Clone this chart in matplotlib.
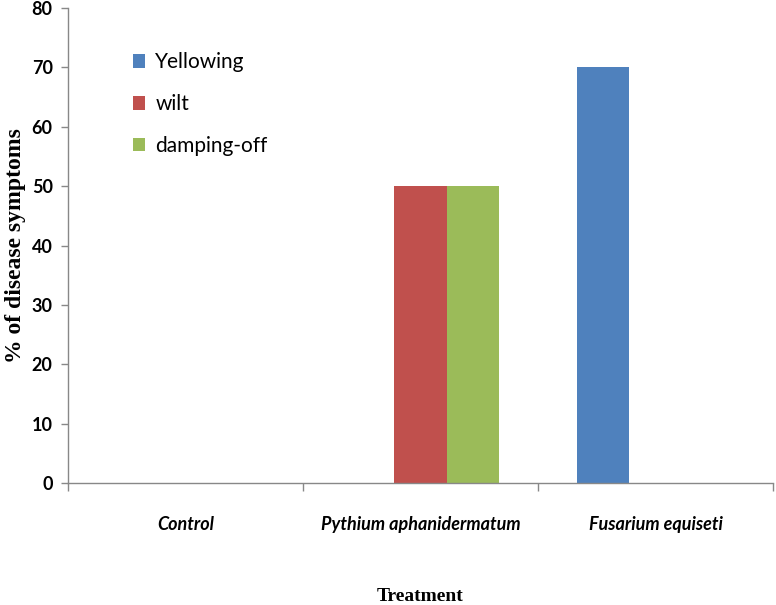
import numpy as np
import matplotlib.pyplot as plt
from matplotlib.ticker import FixedLocator

# Data
treatments = ['Control', 'Pythium aphanidermatum', 'Fusarium equiseti']
yellowing = [0, 0, 70]
wilt = [0, 50, 0]
damping_off = [0, 50, 0]

series = [('Yellowing', yellowing, '#4F81BD'),
          ('wilt', wilt, '#C0504D'),
          ('damping-off', damping_off, '#9BBB59')]

fig = plt.figure(figsize=(7.76, 6.05), dpi=100)
ax = fig.add_axes([0.0876, 0.2017, 0.9085, 0.785])

x = np.arange(len(treatments))
width = 0.223
for i, (name, vals, color) in enumerate(series):
    ax.bar(x + (i - 1) * width, vals, width, color=color, label=name, edgecolor='none')

ax.set_xlim(-0.5, 2.5)
ax.set_ylim(0, 80)
ax.set_yticks(range(0, 81, 10))

# category boundary ticks
ax.set_xticks(x)
ax.set_xticklabels(treatments, fontfamily=['Lato', 'DejaVu Sans'], fontweight='bold',
                   fontstyle='italic', fontsize=13)
ax.xaxis.set_minor_locator(FixedLocator([-0.5, 0.5, 1.5, 2.5]))
ax.tick_params(axis='x', which='major', length=0, pad=24)
ax.tick_params(axis='x', which='minor', length=6, color='#888888', width=1)
ax.tick_params(axis='y', length=5, color='#888888', width=1, pad=6)
for lab in ax.get_yticklabels():
    lab.set_fontfamily(['Lato', 'DejaVu Sans'])
    lab.set_fontweight('bold')
    lab.set_fontsize(13)

for s in ['top', 'right']:
    ax.spines[s].set_visible(False)
for s in ['left', 'bottom']:
    ax.spines[s].set_color('#888888')
    ax.spines[s].set_linewidth(1)

ax.set_ylabel('% of disease symptoms', fontfamily='Liberation Serif', fontweight='bold',
              fontsize=17)
ax.yaxis.set_label_coords(-0.06, 0.5)
ax.set_xlabel('Treatment', fontfamily='Liberation Serif', fontweight='bold', fontsize=14)
ax.xaxis.set_label_coords(0.5, -0.222)

ax.legend(loc='upper left', bbox_to_anchor=(0.065, 0.946), frameon=False,
          prop={'family': ['Lato', 'DejaVu Sans'], 'size': 15},
          handlelength=0.6, handleheight=0.6, handletextpad=0.5, labelspacing=1.05)

fig.savefig('out.png', dpi=100)
